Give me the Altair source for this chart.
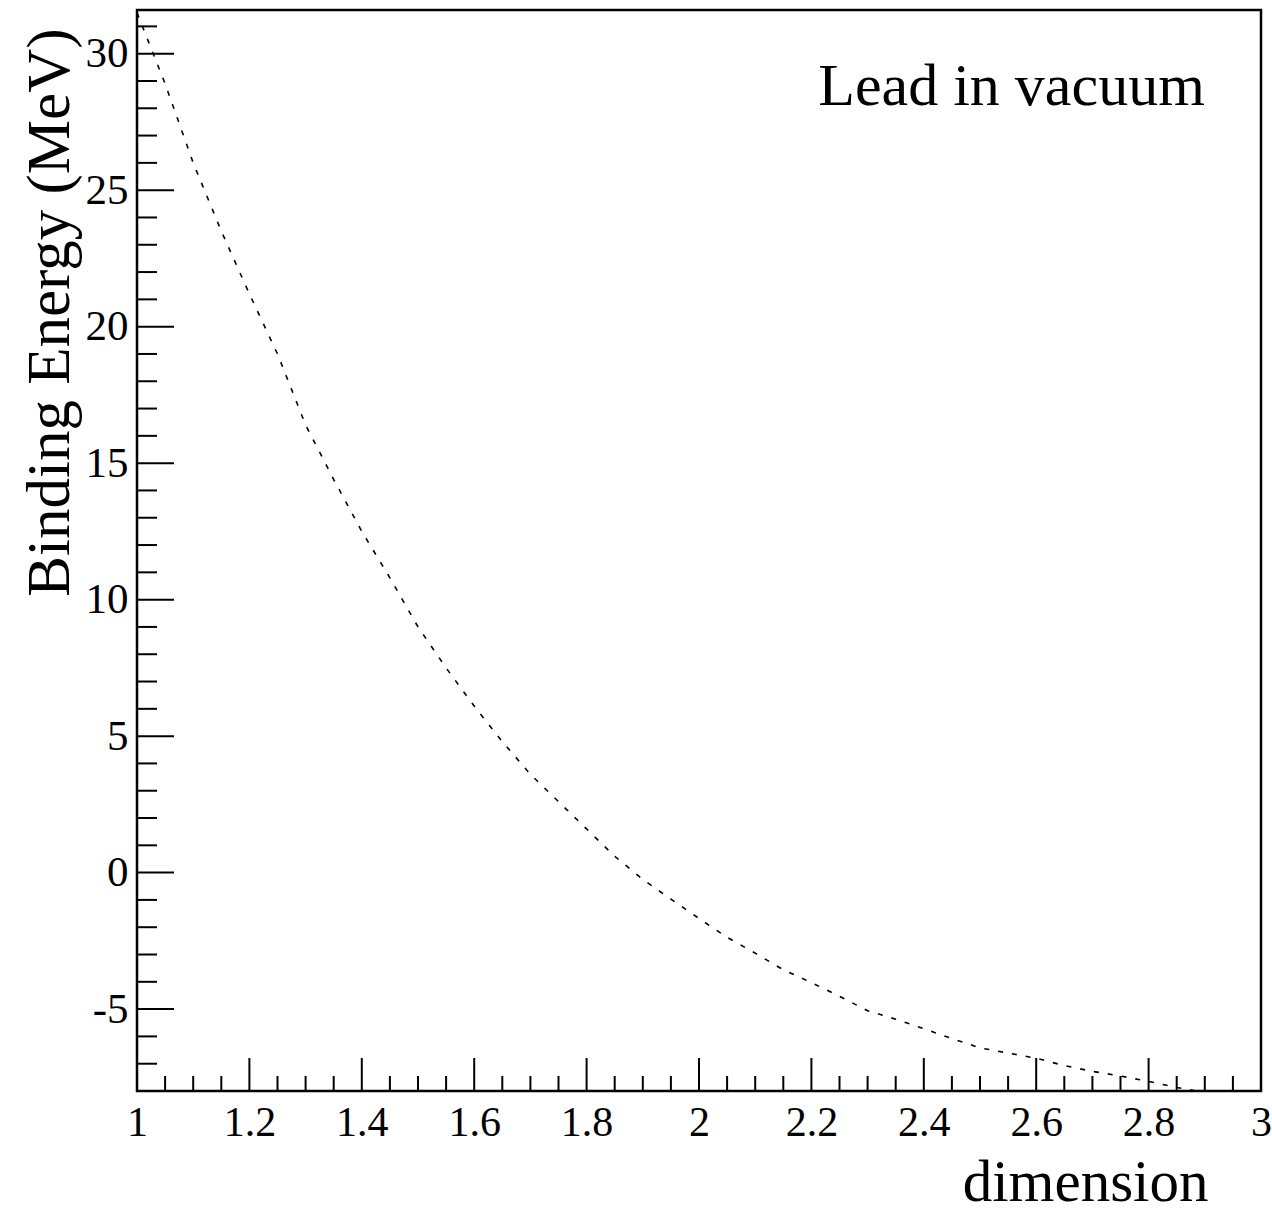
import altair as alt
import pandas as pd

# Curve
dim = [1.00, 1.05, 1.10, 1.15, 1.20, 1.25, 1.30, 1.35, 1.40, 1.45, 1.50, 1.55,
       1.60, 1.65, 1.70, 1.75, 1.80, 1.85, 1.90, 1.95, 2.00, 2.05, 2.10, 2.15,
       2.20, 2.25, 2.30, 2.35, 2.40, 2.45, 2.50, 2.55, 2.60, 2.65, 2.70, 2.75,
       2.80, 2.85, 2.90]
energy = [31.5, 28.9, 26.0, 23.5, 21.2, 19.0, 16.4, 14.4, 12.5, 10.8, 9.0, 7.5,
          6.1, 4.8, 3.6, 2.6, 1.6, 0.6, -0.25, -0.97, -1.68, -2.37, -2.95, -3.56,
          -4.03, -4.53, -5.06, -5.37, -5.72, -6.08, -6.42, -6.61, -6.80, -7.07, -7.28, -7.45,
          -7.65, -7.87, -8.05]

x_major = [1, 1.2, 1.4, 1.6, 1.8, 2, 2.2, 2.4, 2.6, 2.8, 3]
x_minor = [round(1 + 0.05 * i, 2) for i in range(41) if i % 4 != 0]
y_major = [-5, 0, 5, 10, 15, 20, 25, 30]
y_minor = [v for v in range(-8, 32) if v % 5 != 0]

x_domain = [1, 3]
y_domain = [-8.0, 31.6]

label_text = ["Lead in vacuum"]
label_x = [2.9]
label_y = [28.13]

W, H = 1124, 1081
FONT = "Liberation Serif"

xs = alt.Scale(domain=x_domain, nice=False, zero=False)
ys = alt.Scale(domain=y_domain, nice=False, zero=False)

curve_df = pd.DataFrame({"dimension": dim, "energy": energy})

curve = alt.Chart(curve_df).mark_line(
    color="black", strokeWidth=1.6, strokeDash=[5, 9], clip=True
).encode(
    x=alt.X("dimension:Q", scale=xs,
            axis=alt.Axis(values=x_major, labelExpr="'' + datum.value",
                          ticks=False, domain=False, grid=False,
                          labelFont=FONT, labelFontSize=42, labelColor="black",
                          labelPadding=11, labelFlush=False,
                          title="dimension", titleFont=FONT, titleFontSize=59,
                          titleFontWeight="normal", titleColor="black",
                          titleAlign="right", titleBaseline="alphabetic",
                          titleX=1071, titleY=109)),
    y=alt.Y("energy:Q", scale=ys,
            axis=alt.Axis(values=y_major, labelExpr="'' + datum.value",
                          ticks=False, domain=False, grid=False,
                          labelFont=FONT, labelFontSize=43, labelColor="black",
                          labelPadding=9, labelFlush=False,
                          title="Binding Energy (MeV)", titleFont=FONT,
                          titleFontSize=61, titleFontWeight="normal",
                          titleColor="black", titleAngle=270,
                          titleAlign="right", titleBaseline="alphabetic",
                          titleX=-69, titleY=18)),
)

ymaj = alt.Chart(pd.DataFrame({"v": y_major})).mark_rule(color="black", strokeWidth=2).encode(
    y=alt.Y("v:Q", scale=ys), x=alt.value(0), x2=alt.value(37))
ymin = alt.Chart(pd.DataFrame({"v": y_minor})).mark_rule(color="black", strokeWidth=2).encode(
    y=alt.Y("v:Q", scale=ys), x=alt.value(0), x2=alt.value(20))
xmaj = alt.Chart(pd.DataFrame({"v": x_major})).mark_rule(color="black", strokeWidth=2).encode(
    x=alt.X("v:Q", scale=xs), y=alt.value(H), y2=alt.value(H - 33))
xmin = alt.Chart(pd.DataFrame({"v": x_minor})).mark_rule(color="black", strokeWidth=2).encode(
    x=alt.X("v:Q", scale=xs), y=alt.value(H), y2=alt.value(H - 15))

label = alt.Chart(pd.DataFrame({"t": label_text, "x": label_x, "y": label_y})).mark_text(
    font=FONT, fontSize=60, color="black", align="right", baseline="alphabetic"
).encode(x=alt.X("x:Q", scale=xs), y=alt.Y("y:Q", scale=ys), text="t:N")

chart = alt.layer(curve, ymaj, ymin, xmaj, xmin, label).properties(
    width=W, height=H,
    autosize=alt.AutoSizeParams(type="none"),
    padding={"left": 137, "top": 10, "right": 11, "bottom": 122},
    background="white",
).configure_view(stroke="black", strokeWidth=2.5)

chart.save("out.html", embed_options={"renderer": "svg", "actions": False})
